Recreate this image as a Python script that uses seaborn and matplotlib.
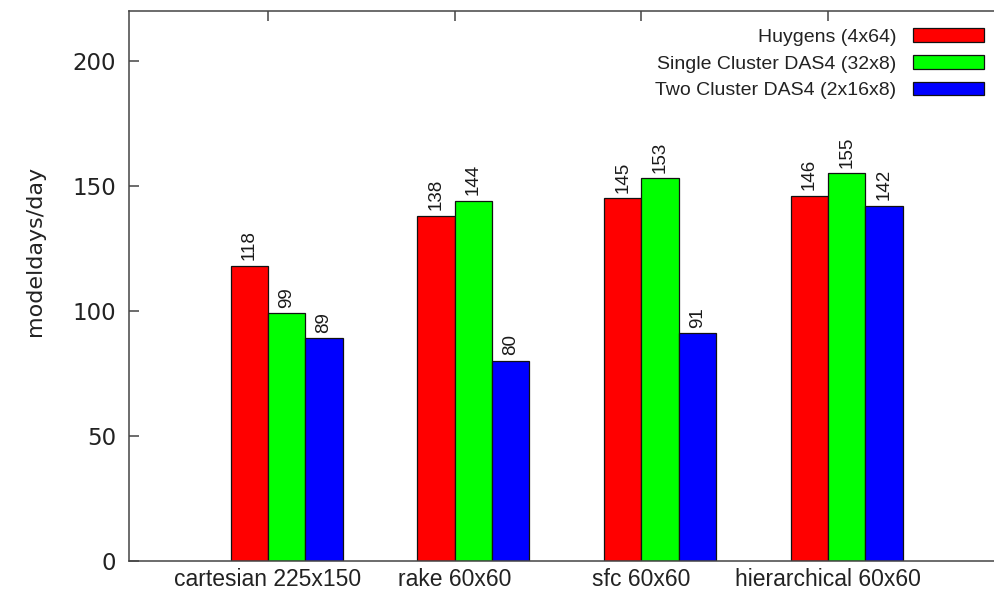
import numpy as np
import matplotlib
matplotlib.use("Agg")
import matplotlib.pyplot as plt
import pandas as pd
import seaborn as sns

# data
configs = ["cartesian 225x150", "rake 60x60", "sfc 60x60", "hierarchical 60x60"]
systems = ["Huygens (4x64)", "Single Cluster DAS4 (32x8)", "Two Cluster DAS4 (2x16x8)"]
huygens = [118, 138, 145, 146]
single_das4 = [99, 144, 153, 155]
two_das4 = [89, 80, 91, 142]
colors = ["#ff0000", "#00ff00", "#0000ff"]

df = pd.DataFrame({
    "config": configs * 3,
    "system": [systems[0]] * 4 + [systems[1]] * 4 + [systems[2]] * 4,
    "rate": huygens + single_das4 + two_das4,
})

sns.set_style("ticks")
plt.rcParams["font.family"] = ["DejaVu Sans"]

fig = plt.figure(figsize=(9.94, 5.98), dpi=100)
ax = fig.add_axes([0.1293, 0.0619, 1.0 - 0.1293, 0.9816 - 0.0619])

sns.barplot(data=df, x="config", y="rate", hue="system", hue_order=systems,
            palette=colors, saturation=1, width=0.6, edgecolor="#111111",
            linewidth=0.9, ax=ax)

for cont in ax.containers:
    ax.bar_label(cont, rotation=90, padding=4, fontsize=13.5,
                 family=["Liberation Sans"], color="#1a1a1a")

ax.set_ylim(0, 220)
ax.set_xlim(-0.847, 3.789)
ax.set_yticks([0, 50, 100, 150, 200])
ax.set_xticks(np.arange(len(configs)) - 0.1)
ax.set_xticklabels(configs, fontsize=16.5, family="Liberation Sans", color="#222222")
for t in ax.get_yticklabels():
    t.set_fontsize(16.5)
    t.set_color("#222222")

ax.tick_params(axis="x", direction="in", top=True, bottom=True, length=7,
               width=1.1, color="#444444", pad=5)
ax.tick_params(axis="y", direction="in", left=True, right=False, length=7,
               width=1.1, color="#444444", pad=9)

ax.set_xlabel("")
ax.set_ylabel("modeldays/day", fontsize=16, color="#222222")
ax.yaxis.set_label_coords(-0.0965, 0.564)

for s in ["left", "top", "bottom"]:
    ax.spines[s].set_color("#444444")
    ax.spines[s].set_linewidth(1.1)
ax.spines["right"].set_visible(False)

handles, labels = ax.get_legend_handles_labels()
leg = ax.legend(handles, labels, loc="upper right", markerfirst=False,
                bbox_to_anchor=(984 / 994, 1 - 28 / 598), bbox_transform=fig.transFigure,
                frameon=False, borderpad=0, borderaxespad=0, handlelength=3.65,
                handleheight=0.7, handletextpad=0.87, labelspacing=0.48,
                prop={"family": "Liberation Sans", "size": 14})
for t in leg.get_texts():
    t.set_color("#222222")

plt.savefig("out.png", dpi=100, facecolor="w", edgecolor="w")
